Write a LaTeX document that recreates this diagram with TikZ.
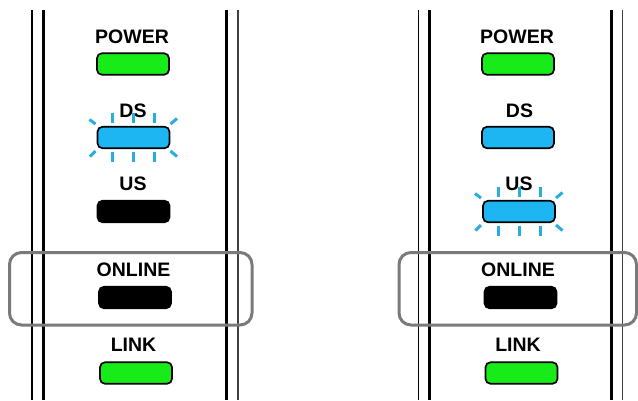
\documentclass[tikz,border=0pt]{standalone}
\usepackage{fontspec}
\setmainfont{Liberation Sans}
\definecolor{ledgreen}{RGB}{24,236,24}
\definecolor{ledblue}{RGB}{30,182,242}
\definecolor{glowblue}{RGB}{40,172,228}
\definecolor{framegray}{RGB}{122,122,122}
\tikzset{
  led/.style={draw=black, line width=1.7pt, rounded corners=5pt, minimum width=72pt, minimum height=21.5pt, inner sep=0pt},
  ledlabel/.style={font=\fontsize{19.5}{19.5}\selectfont\bfseries, text height=14pt, text depth=0pt, inner sep=0pt},
  ray/.style={draw=glowblue, line width=3pt},
  hlbox/.style={draw=framegray, line width=3pt, rounded corners=12pt},
}
\newcommand\ledglow[1]{%
  \begin{scope}[shift={(#1.center)}]
    \foreach \dx in {-21,0,21} {
      \draw[ray] (\dx,-25) -- (\dx,-15);
      \draw[ray] (\dx,14.5) -- (\dx,24.5);
    }
    \draw[ray] (-44,-18) -- (-38,-13.5);
    \draw[ray] (37,-13.5) -- (43.5,-19);
    \draw[ray] (-43.5,19) -- (-38,13.5);
    \draw[ray] (37,13.5) -- (43.5,19);
  \end{scope}}
\begin{document}
\begin{tikzpicture}[x=1pt,y=-1pt]
\useasboundingbox (0,0) rectangle (638,400);
\clip (0,0) rectangle (638,400);
% left panel frame
\draw[line width=1.3pt] (32,10) -- (32,400);
\draw[line width=2.5pt] (43.5,10) -- (43.5,400);
\draw[line width=3pt] (226.5,10) -- (226.5,400);
\draw[line width=1.8pt, black!75] (238,10) -- (238,400);
% right panel frame
\draw[line width=1.3pt] (418.3,10) -- (418.3,400);
\draw[line width=2.7pt] (429.7,10) -- (429.7,400);
\draw[line width=3pt] (611.7,10) -- (611.7,400);
\draw[line width=1.7pt, black!75] (622.5,10) -- (622.5,400);

% left panel
\node[ledlabel] (lpowert) at (132,36.5) {POWER};
\node[led, fill=ledgreen] (lpower) at (133,64) {};
\node[ledlabel] (ldst) at (133,110) {DS};
\node[led, fill=ledblue] (lds) at (133.5,137.5) {};
\ledglow{lds}
\node[ledlabel] (lust) at (133,183.5) {US};
\node[led, fill=black] (lus) at (133.5,211.5) {};
\node[ledlabel] (lonlinet) at (133.5,269.5) {ONLINE};
\node[led, fill=black] (lonline) at (135,297.5) {};
\node[ledlabel] (llinkt) at (133.5,344) {LINK};
\node[led, fill=ledgreen] (llink) at (136,373) {};
\draw[hlbox] (9.5,252.5) rectangle (252,325);

% right panel
\node[ledlabel] (rpowert) at (517,36) {POWER};
\node[led, fill=ledgreen] (rpower) at (518,64) {};
\node[ledlabel] (rdst) at (519.5,110) {DS};
\node[led, fill=ledblue] (rds) at (518,137.5) {};
\node[ledlabel] (rust) at (519,183) {US};
\node[led, fill=ledblue] (rus) at (519,211.5) {};
\ledglow{rus}
\node[ledlabel] (ronlinet) at (518,269.5) {ONLINE};
\node[led, fill=black] (ronline) at (520.5,297.5) {};
\node[ledlabel] (rlinkt) at (518,344) {LINK};
\node[led, fill=ledgreen] (rlink) at (521.5,373) {};
\draw[hlbox] (399,252.5) rectangle (636.5,325);
\end{tikzpicture}
\end{document}
